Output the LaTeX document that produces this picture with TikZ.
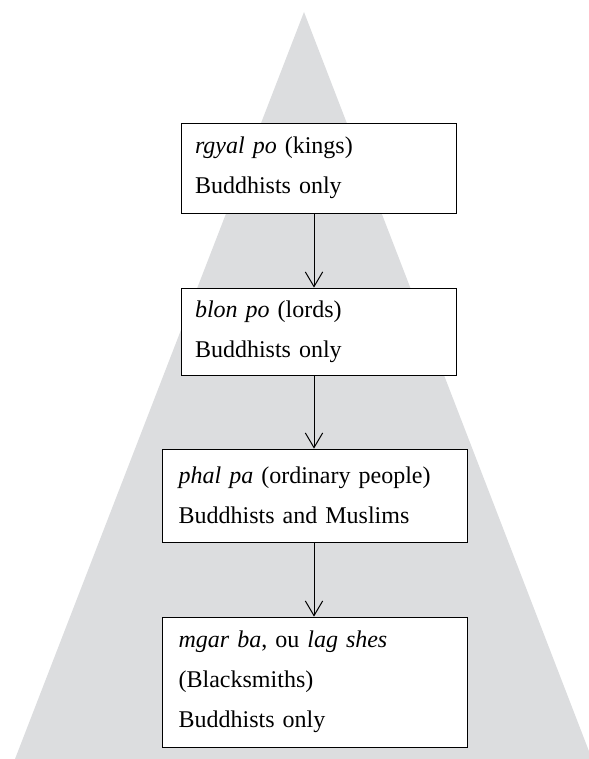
\documentclass[tikz,border=0pt]{standalone}
\usepackage{fontspec}
\setmainfont{Liberation Serif}
\usetikzlibrary{positioning}
\usetikzlibrary{arrows.meta}
\definecolor{pyrgray}{RGB}{220,221,223}

\begin{document}
\begin{tikzpicture}[x=0.75pt,y=-0.75pt,
  stratum/.style={draw,fill=white,line width=0.6pt,align=left,inner xsep=10.5pt,inner ysep=0pt,
    font=\fontsize{18}{30}\selectfont},
  >={Straight Barb[length=11pt,width=13pt]}]
  \useasboundingbox (0,0) rectangle (588,759);

  % the pyramid
  \fill[pyrgray] (304,12) -- (15,759) -- (592,759) -- cycle;
  \coordinate (axis) at (314,0);

  \node[stratum, minimum width=206.25pt, text width=185.25pt, minimum height=67.5pt] (kings) at (318.5,168)
    {\textit{rgyal po} (kings)\\Buddhists only};
  \node[stratum, minimum width=206.25pt, text width=185.25pt, minimum height=65.25pt] (lords) at (318.5,331.5)
    {\textit{blon po} (lords)\\Buddhists only};
  \node[stratum, minimum width=228.75pt, text width=203.75pt, inner xsep=12.5pt, minimum height=69.75pt] (people) at (314.5,495.5)
    {\textit{phal pa} (ordinary people)\\Buddhists and Muslims};
  \node[stratum, minimum width=228.75pt, text width=203.75pt, inner xsep=12.5pt, minimum height=97.5pt] (smiths) at (314.5,682)
    {\textit{mgar ba}, ou \textit{lag shes}\\(Blacksmiths)\\Buddhists only};

  \draw[->,line width=0.75pt] (kings.south -| axis) -- (lords.north -| axis);
  \draw[->,line width=0.75pt] (lords.south -| axis) -- (people.north -| axis);
  \draw[->,line width=0.75pt] (people.south -| axis) -- (smiths.north -| axis);
\end{tikzpicture}
\end{document}
